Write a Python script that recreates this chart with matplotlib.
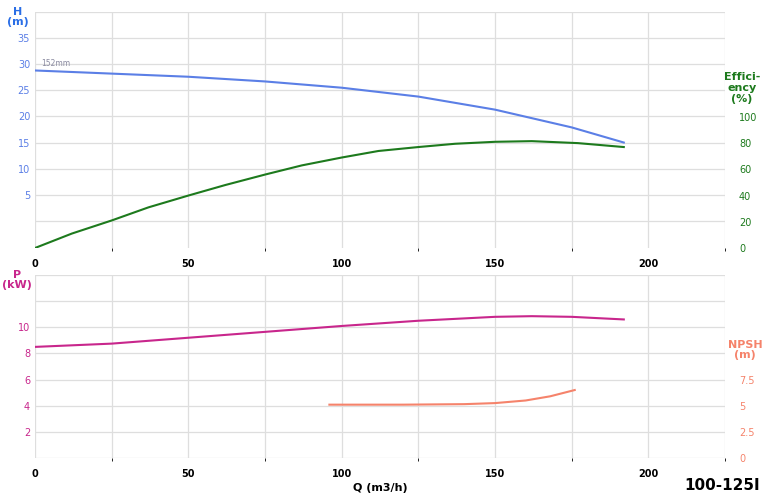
import numpy as np
import matplotlib.pyplot as plt

# curve data
q_h = [0, 25, 50, 75, 100, 125, 150, 175, 192]
head = [28.8, 28.2, 27.6, 26.7, 25.5, 23.8, 21.3, 17.9, 15.0]
q_eff = [0, 12, 25, 37, 50, 62, 75, 87, 100, 112, 125, 137, 150, 162, 177, 192]
eff = [0, 11, 21, 31, 40, 48, 56, 63, 69, 74, 77, 79.5, 81, 81.5, 80, 77]
q_p = [0, 25, 50, 75, 100, 125, 150, 162, 175, 192]
power = [8.5, 8.75, 9.2, 9.65, 10.1, 10.5, 10.8, 10.85, 10.8, 10.6]
q_npsh = [96, 120, 140, 150, 160, 168, 176]
npsh = [5.1, 5.1, 5.15, 5.25, 5.5, 5.9, 6.5]

blue = '#5b7fe6'
green = '#1d7a1d'
mag = '#c8268c'
salmon = '#f5836b'
gridc = '#dedede'

fig = plt.figure(figsize=(7.66, 5.0), dpi=100)
ax1 = fig.add_axes([35/766, 1-248/500, 690/766, 236/500])
ax2 = fig.add_axes([35/766, 1-458/500, 690/766, 183/500])

for ax in (ax1, ax2):
    ax.set_xlim(0, 225)
    ax.set_xticks([0, 50, 100, 150, 200])
    ax.set_xticks(np.arange(0, 226, 25), minor=True)
    ax.grid(True, which='both', axis='x', color=gridc, lw=0.9)
    ax.grid(True, axis='y', color=gridc, lw=0.9)
    for s in ax.spines.values():
        s.set_visible(False)
    ax.tick_params(axis='x', labelsize=7, length=0, pad=8)
    for lab in ax.get_xticklabels():
        lab.set_fontweight('bold')
    ax.set_axisbelow(True)

# top panel
ax1.set_ylim(-5.2, 40)
ax1.set_yticks(np.arange(0, 41, 5))
ax1.set_yticklabels([''] + [str(v) for v in range(5, 40, 5)] + [''])
ax1.tick_params(axis='y', labelsize=7, colors=blue, length=0)
ax1.plot(q_h, head, color=blue, lw=1.5)
ax1.text(2, 29.6, '152mm', fontsize=5.5, color='#8a8aa0')
ax1e = ax1.twinx()
ax1e.set_ylim(0, 180)
ax1e.set_yticks(np.arange(0, 101, 20))
ax1e.tick_params(axis='y', labelsize=7, colors=green, length=0, pad=10)
for s in ax1e.spines.values():
    s.set_visible(False)
ax1e.plot(q_eff, eff, color=green, lw=1.5)

# bottom panel
ax2.set_ylim(0, 14)
ax2.set_yticks(np.arange(0, 15, 2))
ax2.set_yticklabels([''] + [str(v) for v in range(2, 11, 2)] + ['', ''])
ax2.tick_params(axis='y', labelsize=7, colors=mag, length=0)
ax2.plot(q_p, power, color=mag, lw=1.5)
ax2n = ax2.twinx()
ax2n.set_ylim(0, 17.5)
ax2n.set_yticks([0, 2.5, 5, 7.5])
ax2n.set_yticklabels(['0', '2.5', '5', '7.5'])
ax2n.tick_params(axis='y', labelsize=7, colors=salmon, length=0, pad=10)
for s in ax2n.spines.values():
    s.set_visible(False)
ax2n.plot(q_npsh, npsh, color=salmon, lw=1.5)

# axis titles
fig.text(18/766, 1-17/500, 'H\n(m)', color='#2a6ee6', fontsize=8, fontweight='bold',
         ha='center', va='center', linespacing=1.1)
fig.text(742/766, 1-88/500, 'Effici-\nency\n(%)', color=green, fontsize=8,
         fontweight='bold', ha='center', va='center', linespacing=1.1)
fig.text(17/766, 1-280/500, 'P\n(kW)', color=mag, fontsize=8, fontweight='bold',
         ha='center', va='center', linespacing=1.1)
fig.text(745/766, 1-350/500, 'NPSH\n(m)', color=salmon, fontsize=8,
         fontweight='bold', ha='center', va='center', linespacing=1.1)
fig.text(380/766, 1-488/500, 'Q (m3/h)', fontsize=8, fontweight='bold', ha='center', va='center')
fig.text(760/766, 1-485/500, '100-125I', fontsize=11, fontweight='bold', ha='right', va='center')

fig.savefig('out.png', dpi=100)
